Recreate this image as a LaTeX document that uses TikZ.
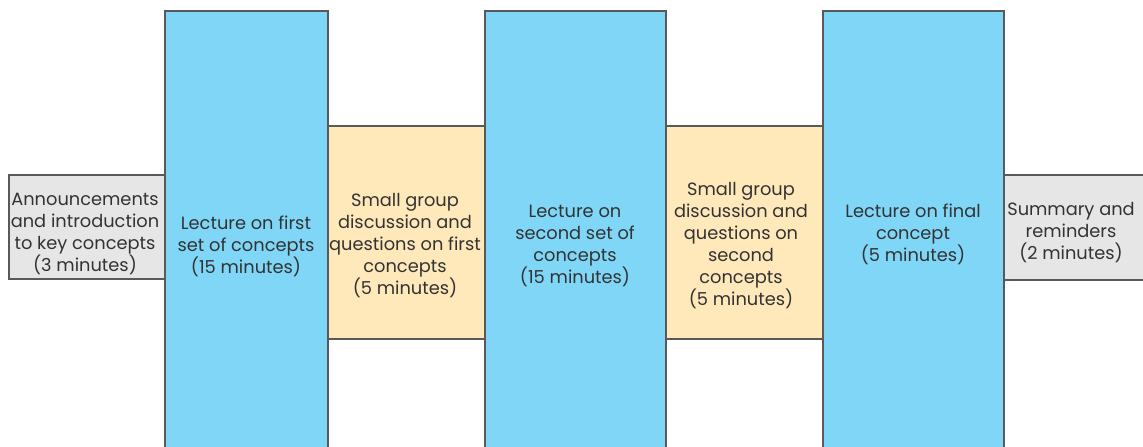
\documentclass[tikz,border=0pt]{standalone}
\usepackage{fontspec}
\setmainfont{Poppins}
\usepackage{tikz}
\tikzstyle{agenda} = [x = .5pt, y = -.5pt]
\definecolor{borderColor}{HTML}{595959}
\definecolor{textColor}{HTML}{333333}
\definecolor{lectureColor}{HTML}{7FD6F7}
\definecolor{groupColor}{HTML}{FFE8BA}
\definecolor{otherColor}{HTML}{E6E6E6}
\tikzstyle{blockStyle} = [draw=borderColor, line width=.6pt, inner sep=0pt, outer sep=0pt]
\tikzstyle{lectureBlock} = [blockStyle, fill=lectureColor]
\tikzstyle{groupBlock} = [blockStyle, fill=groupColor]
\tikzstyle{otherBlock} = [blockStyle, fill=otherColor]
\tikzstyle{blockText} = [text=textColor, align=center, inner sep=0pt, font=\fontsize{8.9}{11}\selectfont]
% #1 name, #2 style, #3 left, #4 top, #5 right, #6 bottom
\newcommand{\timeBlock}[6]{\node [#2, minimum width={(#5-#3)*.5pt}, minimum height={(#6-#4)*.5pt}] (#1) at ({(#3+#5)/2},{(#4+#6)/2}) {};}
% #1 name, #2 x, #3 y, #4 text
\newcommand{\blockLabel}[4]{\node [blockText] (#1) at (#2,#3) {#4};}

\begin{document}
\begin{tikzpicture}[agenda]
    \useasboundingbox (0,0) rectangle (1143,446);
    \clip (0,0) rectangle (1143,446);
    \timeBlock{intro}{otherBlock}{9}{175}{165}{279}
    \timeBlock{lectureOne}{lectureBlock}{165}{11}{328}{480}
    \timeBlock{groupOne}{groupBlock}{328}{126}{485}{339}
    \timeBlock{lectureTwo}{lectureBlock}{485}{11}{666}{480}
    \timeBlock{groupTwo}{groupBlock}{666}{126}{823}{339}
    \timeBlock{lectureThree}{lectureBlock}{823}{11}{1004}{480}
    \timeBlock{summary}{otherBlock}{1004}{175}{1160}{280}
    \blockLabel{introText}{85}{234}{Announcements\\and introduction\\to key concepts\\(3 minutes)}
    \blockLabel{lectureOneText}{246}{246}{Lecture on first\\set of concepts\\(15 minutes)}
    \blockLabel{groupOneText}{405}{246}{Small group\\discussion and\\questions on first\\concepts\\(5 minutes)}
    \blockLabel{lectureTwoText}{575}{246}{Lecture on\\second set of\\concepts\\(15 minutes)}
    \blockLabel{groupTwoText}{741}{246}{Small group\\discussion and\\questions on\\second\\concepts\\(5 minutes)}
    \blockLabel{lectureThreeText}{913}{234}{Lecture on final\\concept\\(5 minutes)}
    \blockLabel{summaryText}{1071}{233}{Summary and\\reminders\\(2 minutes)}
\end{tikzpicture}
\end{document}
